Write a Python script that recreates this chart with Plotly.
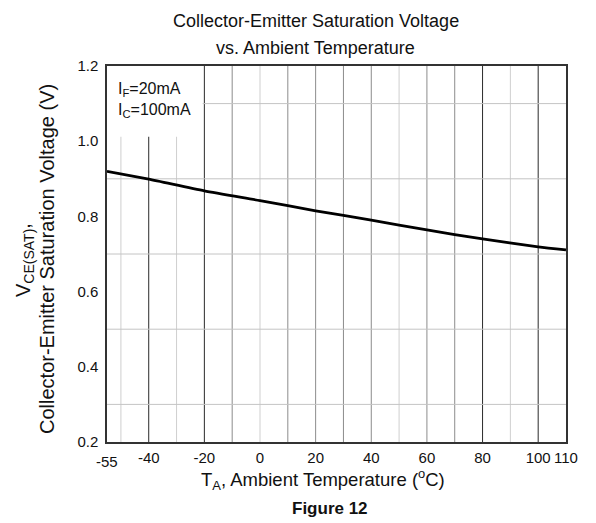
import plotly.graph_objects as go

# ---- data ----
temps = [-55, -40, -20, 0, 20, 40, 60, 80, 100, 110]
vce_sat = [0.920, 0.899, 0.868, 0.842, 0.815, 0.790, 0.764, 0.740, 0.719, 0.711]

x_tick_vals = [-40, -20, 0, 20, 40, 60, 80, 100, 110]
x_tick_text = ["-40", "-20", "0", "20", "40", "60", "80", "100", "110"]
y_tick_vals = [0.2, 0.4, 0.6, 0.8, 1.0, 1.2]
y_tick_text = ["0.2", "0.4", "0.6", "0.8", "1.0", "1.2"]

v_grid_dark = [-40, -20, 80, 100]
v_grid_mid = [-10, 10, 20, 30, 40, 60, 70]
v_grid_light = [-50, -30, 0, 50, 90]
h_grid = [0.3, 0.5, 0.7, 0.9, 1.1]

FONT = "Liberation Sans, Arial, sans-serif"

fig = go.Figure()
fig.add_trace(go.Scatter(x=temps, y=vce_sat, mode="lines",
                         line=dict(color="#000000", width=2.8, shape="spline", smoothing=0.6),
                         hoverinfo="skip", showlegend=False))

shapes = []
for xv, col in ([(v, "#2a2a2a") for v in v_grid_dark] +
                [(v, "#8c8c8c") for v in v_grid_mid] +
                [(v, "#cfcfcf") for v in v_grid_light]):
    shapes.append(dict(type="line", xref="x", yref="paper", x0=xv, x1=xv, y0=0, y1=1,
                       line=dict(color=col, width=1), layer="below"))
for yv in h_grid:
    shapes.append(dict(type="line", xref="paper", yref="y", x0=0, x1=1, y0=yv, y1=yv,
                       line=dict(color="#c4c4c4", width=1), layer="below"))
# white box behind the condition label
shapes.append(dict(type="rect", xref="x", yref="y", x0=-55, x1=-20.6, y0=1.012, y1=1.2,
                   fillcolor="white", line=dict(width=0), layer="below"))

annotations = [
    dict(text="Collector-Emitter Saturation Voltage", xref="paper", yref="paper",
         x=0.455, y=(442 - 21) / 376, xanchor="center", yanchor="middle", showarrow=False,
         font=dict(family=FONT, size=18, color="#111")),
    dict(text="vs. Ambient Temperature", xref="paper", yref="paper",
         x=0.455, y=(442 - 48) / 376, xanchor="center", yanchor="middle", showarrow=False,
         font=dict(family=FONT, size=18, color="#111")),
    dict(text="V<sub>CE(SAT)</sub>,", xref="paper", yref="paper",
         x=(24 - 107) / 459, y=(442 - 260) / 376, xanchor="center", yanchor="middle",
         textangle=-90, showarrow=False, font=dict(family=FONT, size=20, color="#111")),
    dict(text="Collector-Emitter Saturation Voltage (V)", xref="paper", yref="paper",
         x=(47 - 107) / 459, y=(442 - 259) / 376, xanchor="center", yanchor="middle",
         textangle=-90, showarrow=False, font=dict(family=FONT, size=20, color="#111")),
    dict(text="T<sub>A</sub>, Ambient Temperature (<sup>o</sup>C)", xref="paper", yref="paper",
         x=(323 - 107) / 459, y=(442 - 480) / 376, xanchor="center", yanchor="middle",
         showarrow=False, font=dict(family=FONT, size=18.5, color="#111")),
    dict(text="<b>Figure 12</b>", xref="paper", yref="paper",
         x=(330 - 107) / 459, y=(442 - 508) / 376, xanchor="center", yanchor="middle",
         showarrow=False, font=dict(family=FONT, size=17, color="#111")),
    dict(text="I<sub>F</sub>=20mA", xref="paper", yref="paper",
         x=(116 - 107) / 459, y=(442 - 89) / 376, xanchor="left", yanchor="middle",
         showarrow=False, font=dict(family=FONT, size=16, color="#111")),
    dict(text="I<sub>C</sub>=100mA", xref="paper", yref="paper",
         x=(116 - 107) / 459, y=(442 - 111) / 376, xanchor="left", yanchor="middle",
         showarrow=False, font=dict(family=FONT, size=16, color="#111")),
    dict(text="-55", xref="x", yref="paper", x=-55, y=(442 - 461) / 376,
         xanchor="center", yanchor="middle", showarrow=False,
         font=dict(family=FONT, size=15, color="#111")),
]

fig.update_layout(
    width=596, height=523,
    margin=dict(l=107, r=30, t=66, b=81),
    paper_bgcolor="white", plot_bgcolor="white",
    showlegend=False,
    shapes=shapes, annotations=annotations,
    font=dict(family=FONT, size=15, color="#111"),
    xaxis=dict(range=[-55, 110], tickvals=x_tick_vals, ticktext=x_tick_text,
               showgrid=False, zeroline=False, showline=True, mirror=True,
               linecolor="#333", linewidth=1.5, ticks="", ticklabelstandoff=1,
               tickfont=dict(family=FONT, size=15, color="#111")),
    yaxis=dict(range=[0.2, 1.2], tickvals=y_tick_vals, ticktext=y_tick_text,
               showgrid=False, zeroline=False, showline=True, mirror=True,
               linecolor="#333", linewidth=1.5, ticks="", ticklabelstandoff=4,
               tickfont=dict(family=FONT, size=15, color="#111")),
)

fig.write_html("out.html", config={"displayModeBar": False},
               post_script="document.body.style.margin='0px';document.body.style.overflow='hidden';")
